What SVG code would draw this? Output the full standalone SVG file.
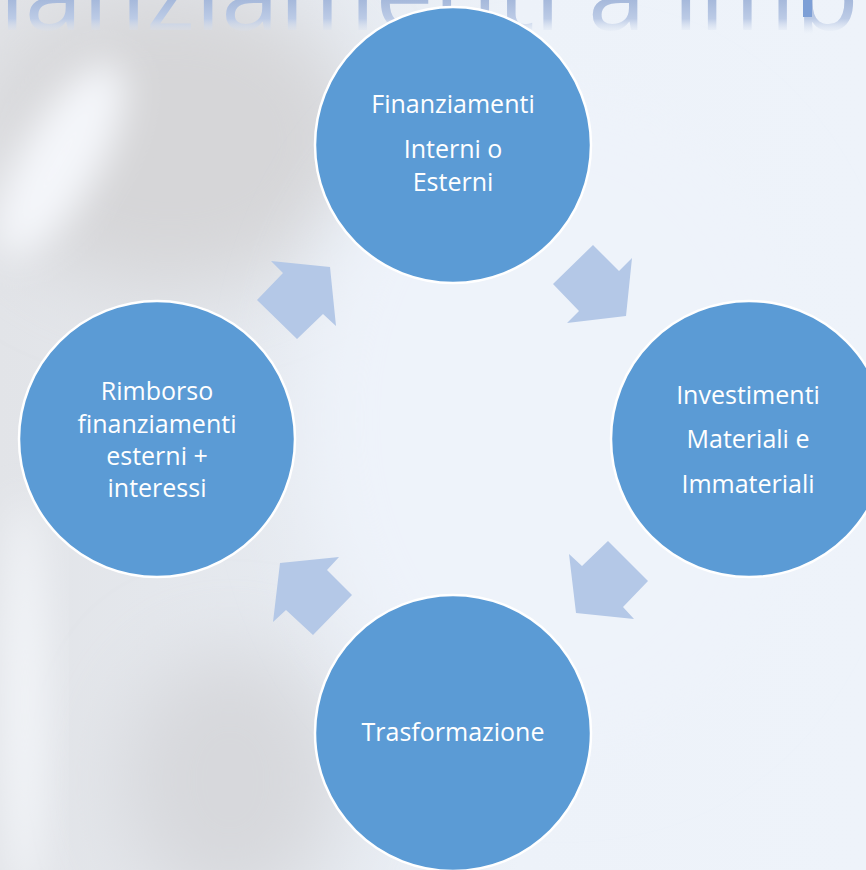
<svg xmlns="http://www.w3.org/2000/svg" width="866" height="870" viewBox="0 0 866 870">
  <defs>
    <filter id="blur40" x="-50%" y="-50%" width="200%" height="200%">
      <feGaussianBlur stdDeviation="40"/>
    </filter>
    <filter id="blur20" x="-50%" y="-50%" width="200%" height="200%">
      <feGaussianBlur stdDeviation="18"/>
    </filter>
    <linearGradient id="bgBase" x1="0" y1="0" x2="1" y2="0">
      <stop offset="0" stop-color="#e2e4e8"/>
      <stop offset="0.35" stop-color="#e6eaf0"/>
      <stop offset="0.6" stop-color="#edf2f9"/>
      <stop offset="1" stop-color="#eef3fa"/>
    </linearGradient>
    <linearGradient id="titleFill" gradientUnits="userSpaceOnUse" x1="0" y1="0" x2="0" y2="34">
      <stop offset="0" stop-color="#a6b9db"/>
      <stop offset="0.55" stop-color="#bccbe6"/>
      <stop offset="1" stop-color="#dde5f2" stop-opacity="0"/>
    </linearGradient>
    <style>
      .node circle { fill: #5b9bd5; stroke: #ffffff; stroke-width: 2.5; }
      .node text { fill: #ffffff; font-family: "Open Sans", "Noto Sans", "Liberation Sans", sans-serif; font-size: 25px; text-anchor: middle; }
      .arrow { fill: #b4c8e7; }
      .title { font-family: "Open Sans", "Noto Sans", "Liberation Sans", sans-serif; font-size: 104px; fill: url(#titleFill); }
    </style>
  </defs>

  <!-- background -->
  <g id="background">
    <rect x="0" y="0" width="866" height="870" fill="url(#bgBase)"/>
    <ellipse cx="170" cy="140" rx="190" ry="150" fill="#d6d6d8" filter="url(#blur40)"/>
    <ellipse cx="60" cy="160" rx="40" ry="110" fill="#f4f6fa" filter="url(#blur20)" transform="rotate(30 60 160)"/>
    <ellipse cx="230" cy="780" rx="110" ry="130" fill="#d7d8dc" filter="url(#blur40)"/>
    <ellipse cx="25" cy="700" rx="22" ry="200" fill="#f2f4f8" filter="url(#blur20)"/>
    <ellipse cx="560" cy="420" rx="260" ry="330" fill="#eef3fa" filter="url(#blur40)"/>
    <rect x="0" y="0" width="866" height="34" fill="#e9eef6" opacity="0.0"/>
    <text class="title" x="-119" y="30">Finanziamenti a imprese</text>
    <rect x="803" y="0" width="9" height="17" fill="#7d9fd6"/>
  </g>

  <!-- connectors -->
  <g id="connectors">
    <polygon class="arrow" points="271,261 330,267 336,326 323,314 297,339 257,300 283,273"/>
    <polygon class="arrow" points="593,245 619,271 632,258 626,316 567,323 579,311 553,284"/>
    <polygon class="arrow" points="608,541 648,581 623,607 634,619 576,613 569,554 582,566"/>
    <polygon class="arrow" points="280,563 339,557 327,570 352,595 313,635 286,610 273,622"/>
  </g>

  <g id="node-finanziamenti" class="node">
    <circle cx="453" cy="145" r="138"/>
    <text x="453" y="113">Finanziamenti</text>
    <text x="453" y="158">Interni o</text>
    <text x="453" y="191">Esterni</text>
  </g>

  <g id="node-investimenti" class="node">
    <circle cx="749" cy="439" r="138"/>
    <text x="748" y="404">Investimenti</text>
    <text x="748" y="448">Materiali e</text>
    <text x="748" y="493">Immateriali</text>
  </g>

  <g id="node-trasformazione" class="node">
    <circle cx="453" cy="733" r="138"/>
    <text x="453" y="741">Trasformazione</text>
  </g>

  <g id="node-rimborso" class="node">
    <circle cx="157" cy="439" r="138"/>
    <text x="157" y="400">Rimborso</text>
    <text x="157" y="433">finanziamenti</text>
    <text x="157" y="465">esterni +</text>
    <text x="157" y="497">interessi</text>
  </g>
</svg>
